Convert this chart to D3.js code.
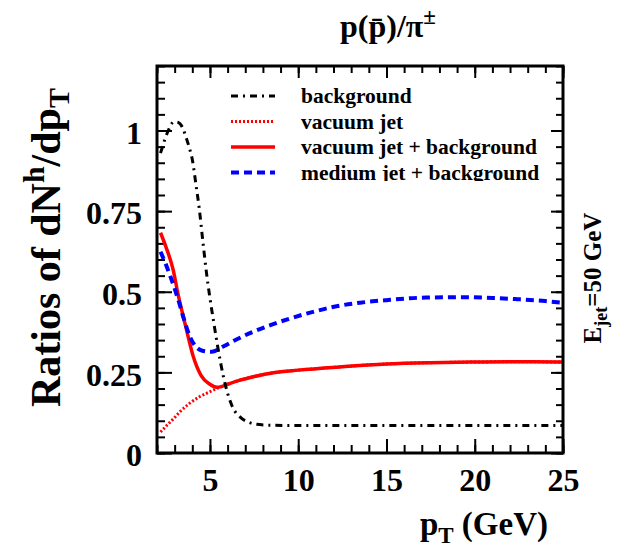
<!DOCTYPE html>
<html>
<head>
<meta charset="utf-8">
<script src="https://cdn.jsdelivr.net/npm/d3@7"></script>
<style>
  html, body { margin: 0; padding: 0; background: #fff; }
  text { font-family: "Liberation Serif", "Times New Roman", serif; font-weight: bold; fill: #000; }
</style>
</head>
<body>
<script>
// ---------- data ----------
const bgX  = [2.2, 2.4, 2.64, 2.96, 3.2, 3.43, 3.68, 3.87, 4.0, 4.2, 4.4, 4.6, 4.8, 5.0, 5.2, 5.47, 5.75, 6.0, 6.3, 6.7, 7.2, 7.64, 8.5, 10, 15, 20, 25];
const bgY  = [0.93, 0.965, 1.0, 1.027, 1.025, 1.011, 0.973, 0.939, 0.91, 0.835, 0.755, 0.655, 0.56, 0.48, 0.41, 0.32, 0.24, 0.185, 0.14, 0.112, 0.095, 0.089, 0.086, 0.085, 0.085, 0.085, 0.085];

const vacX = [2.2, 2.6, 3.0, 3.3, 3.8, 4.43, 5.0, 5.38, 6.0, 6.7, 7.5, 8.6, 10, 12.36, 15, 17.5, 20, 22, 25];
const vacY = [0.065, 0.088, 0.11, 0.128, 0.152, 0.175, 0.19, 0.2, 0.213, 0.226, 0.237, 0.249, 0.257, 0.267, 0.276, 0.280, 0.282, 0.283, 0.282];

const vacBgX = [2.2, 2.5, 2.92, 3.2, 3.4, 3.68, 4.05, 4.5, 5.0, 5.38, 5.6, 5.95, 6.7, 7.5, 8.6, 10, 12.36, 15, 17.5, 20, 22, 25];
const vacBgY = [0.683, 0.64, 0.567, 0.49, 0.443, 0.38, 0.30, 0.24, 0.213, 0.204, 0.205, 0.212, 0.226, 0.237, 0.249, 0.257, 0.267, 0.276, 0.280, 0.282, 0.283, 0.282];

const medBgX = [2.2, 2.5, 2.74, 3.0, 3.26, 3.5, 3.87, 4.2, 4.53, 5.1, 5.75, 6.5, 7.45, 8.5, 9.53, 11, 12.17, 13.5, 15, 17.26, 19.3, 21, 22.4, 24, 25];
const medBgY = [0.624, 0.585, 0.55, 0.51, 0.465, 0.42, 0.36, 0.33, 0.318, 0.314, 0.33, 0.352, 0.376, 0.398, 0.417, 0.44, 0.455, 0.466, 0.474, 0.482, 0.483, 0.481, 0.477, 0.471, 0.466];

const xMajorTicks = [5, 10, 15, 20, 25];
const yMajorTicks = [0, 0.25, 0.5, 0.75, 1];
const legendLabels = ["background", "vacuum jet", "vacuum jet + background", "medium jet + background"];

// ---------- layout ----------
const W = 617, H = 551;
const L = 157, R = 563, T = 66, B = 453;

const svg = d3.select("body").append("svg").attr("width", W).attr("height", H);

const x = d3.scaleLinear().domain([2, 25]).range([L, R]);
const y = d3.scaleLinear().domain([0, 1.2]).range([B, T]);

const xMinor = d3.range(2, 25.001, 1);
const yMinor = d3.range(0, 1.2001, 0.05).map(v => +v.toFixed(2));

function styleAxis(g) {
  g.select(".domain").remove();
  g.selectAll(".tick line").attr("stroke", "#000").attr("stroke-width", 2);
}

// bottom axis
svg.append("g").attr("transform", `translate(0,${B})`)
  .call(d3.axisBottom(x).tickValues(xMinor).tickSize(-8).tickFormat(""))
  .call(styleAxis);
svg.append("g").attr("transform", `translate(0,${B})`)
  .call(d3.axisBottom(x).tickValues(xMajorTicks).tickSize(-14).tickPadding(15).tickFormat(d3.format("d")))
  .call(styleAxis)
  .call(g => g.selectAll("text").style("font-size", "32px").attr("font-family", null));

// top axis
svg.append("g").attr("transform", `translate(0,${T})`)
  .call(d3.axisTop(x).tickValues(xMinor).tickSize(-7).tickFormat(""))
  .call(styleAxis);
svg.append("g").attr("transform", `translate(0,${T})`)
  .call(d3.axisTop(x).tickValues(xMajorTicks).tickSize(-12).tickFormat(""))
  .call(styleAxis);

// left axis
svg.append("g").attr("transform", `translate(${L},0)`)
  .call(d3.axisLeft(y).tickValues(yMinor).tickSize(-8).tickFormat(""))
  .call(styleAxis);
svg.append("g").attr("transform", `translate(${L},0)`)
  .call(d3.axisLeft(y).tickValues(yMajorTicks).tickSize(-15).tickPadding(15).tickFormat(d => String(d)))
  .call(styleAxis)
  .call(g => g.selectAll("text").style("font-size", "32px").attr("dy", "0.4em").attr("font-family", null));

// right axis
svg.append("g").attr("transform", `translate(${R},0)`)
  .call(d3.axisRight(y).tickValues(yMinor).tickSize(-7).tickFormat(""))
  .call(styleAxis);
svg.append("g").attr("transform", `translate(${R},0)`)
  .call(d3.axisRight(y).tickValues(yMajorTicks).tickSize(-12).tickFormat(""))
  .call(styleAxis);

// clip
svg.append("clipPath").attr("id", "plotclip")
  .append("rect").attr("x", L).attr("y", T).attr("width", R - L).attr("height", B - T);

const line = d3.line().x(d => x(d[0])).y(d => y(d[1])).curve(d3.curveMonotoneX);
const zip = (a, b) => a.map((v, i) => [v, b[i]]);

const series = [
  { name: legendLabels[0], xs: bgX,    ys: bgY,    color: "#000",    width: 3,   dash: "7,5,2,5" },
  { name: legendLabels[1], xs: vacX,   ys: vacY,   color: "#ff0000", width: 3,   dash: "2,2" },
  { name: legendLabels[2], xs: vacBgX, ys: vacBgY, color: "#ff0000", width: 3.5, dash: null },
  { name: legendLabels[3], xs: medBgX, ys: medBgY, color: "#0000ff", width: 4,   dash: "8,5" }
];

const plot = svg.append("g").attr("clip-path", "url(#plotclip)");
[1, 2, 3, 0].forEach(i => {
  const s = series[i];
  plot.append("path")
    .attr("d", line(zip(s.xs, s.ys)))
    .attr("fill", "none")
    .attr("stroke", s.color)
    .attr("stroke-width", s.width)
    .attr("stroke-dasharray", s.dash);
});

// frame
svg.append("rect").attr("x", L).attr("y", T).attr("width", R - L).attr("height", B - T)
  .attr("fill", "none").attr("stroke", "#000").attr("stroke-width", 3);

// legend
svg.append("clipPath").attr("id", "legclip")
  .append("rect").attr("x", 220).attr("y", 82).attr("width", 335).attr("height", 99);
const leg = svg.append("g").attr("clip-path", "url(#legclip)");
series.forEach((s, i) => {
  const yy = 96 + i * 25.5;
  leg.append("line").attr("x1", 231).attr("x2", 275).attr("y1", yy).attr("y2", yy)
    .attr("stroke", s.color).attr("stroke-width", s.width).attr("stroke-dasharray", s.dash);
  leg.append("text").attr("x", 301).attr("y", yy + 7).style("font-size", "21.5px").text(s.name);
});

// title
const title = svg.append("text").attr("x", 388).attr("y", 37).attr("text-anchor", "middle").style("font-size", "32px");
title.append("tspan").text("p(p\u0304)/\u03c0");
title.append("tspan").attr("dy", -13).style("font-size", "23px").text("\u00b1");

// y label
const yl = svg.append("text").attr("transform", "translate(60,88) rotate(-90)").attr("text-anchor", "end").style("font-size", "42px");
yl.append("tspan").text("Ratios of dN");
yl.append("tspan").attr("dy", -16).style("font-size", "30px").text("h");
yl.append("tspan").attr("dy", 16).text("/dp");
yl.append("tspan").attr("dy", 9).style("font-size", "30px").text("T");

// x label
const xl = svg.append("text").attr("x", 548).attr("y", 535).attr("text-anchor", "end").style("font-size", "33px");
xl.append("tspan").text("p");
xl.append("tspan").attr("dy", 8).style("font-size", "23px").text("T");
xl.append("tspan").attr("dy", -8).text(" (GeV)");

// right label
const el = svg.append("text").attr("transform", "translate(601,278) rotate(-90)").attr("text-anchor", "middle").style("font-size", "25px");
el.append("tspan").text("E");
el.append("tspan").attr("dy", 6).style("font-size", "18px").text("jet");
el.append("tspan").attr("dy", -6).text("=50 GeV");
</script>
</body>
</html>
